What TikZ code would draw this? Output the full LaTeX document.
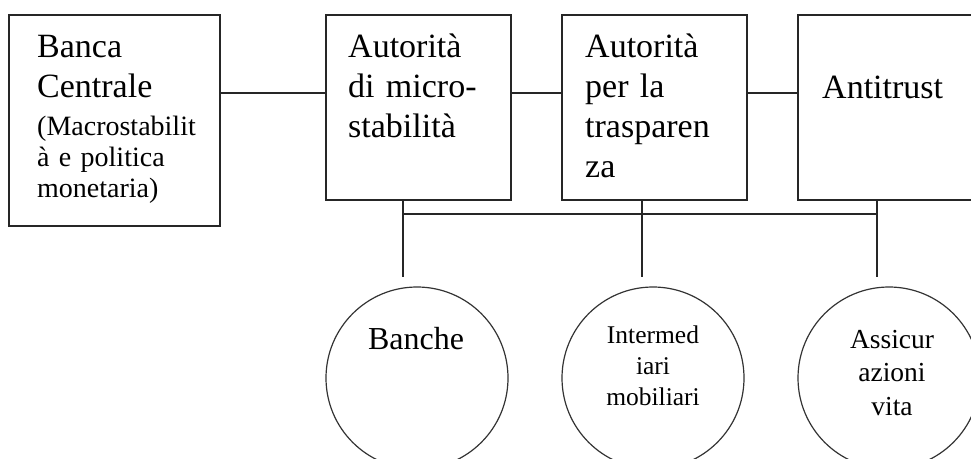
\documentclass[tikz,border=0pt]{standalone}
\usepackage{fontspec}
\setmainfont{Liberation Serif}
\begin{document}
\begin{tikzpicture}[x=1pt,y=-1pt,
  box/.style={draw=black!85, line width=1.7pt, rectangle, inner sep=0pt, anchor=north west},
  circ/.style={draw=black!80, line width=1.2pt, circle, minimum size=182pt, inner sep=0pt},
  link/.style={draw=black!85, line width=1.7pt},
  big/.style={anchor=base west, inner sep=0pt, text width=200pt, align=left, font=\fontsize{34}{40}\selectfont},
  small/.style={anchor=base west, inner sep=0pt, text width=200pt, align=left, font=\fontsize{28}{31}\selectfont},
  ctext/.style={anchor=base, inner sep=0pt, text width=170pt, align=center}]
\useasboundingbox (0,0) rectangle (971,458);
\clip (0,0) rectangle (971,458);

% boxes
\node[box, minimum width=211pt, minimum height=211pt] (b1) at (8,14) {};
\node[box, minimum width=185pt, minimum height=185pt] (b2) at (325,14) {};
\node[box, minimum width=185pt, minimum height=185pt] (b3) at (561,14) {};
\node[box, minimum width=200pt, minimum height=185pt] (b4) at (797,14) {};

% box texts
\node[big] (t1a) at (37,57) {Banca\\Centrale};
\node[small] (t1b) at (37,135) {(Macrostabilit\\à e politica\\monetaria)};
\node[big] (t2) at (348,57) {Autorità\\di micro-\\stabilità};
\node[big] (t3) at (585,57) {Autorità\\per la\\trasparen\\za};
\node[big] (t4) at (822,98) {Antitrust};

% circles
\node[circ] (c1) at (417,378) {};
\node[circ] (c2) at (653,378) {};
\node[circ] (c3) at (889,378) {};

\node[ctext, font=\fontsize{32}{38}\selectfont] (s1) at (416,349) {Banche};
\node[ctext, font=\fontsize{25.5}{31}\selectfont] (s2) at (653,343) {Intermed\\iari\\mobiliari};
\node[ctext, font=\fontsize{27.5}{33.5}\selectfont] (s3) at (892,348) {Assicur\\azioni\\vita};

% connectors
\coordinate (lev) at (0,93);
\coordinate (bus) at (0,214);
\coordinate (d1) at (403,277);
\coordinate (d2) at (642,277);
\coordinate (d3) at (877,277);

\draw[link] (b1.east |- lev) -- (b2.west |- lev);
\draw[link] (b2.east |- lev) -- (b3.west |- lev);
\draw[link] (b3.east |- lev) -- (b4.west |- lev);
\draw[link] (d1 |- b2.south) -- (d1);
\draw[link] (d2 |- b3.south) -- (d2);
\draw[link] (d3 |- b4.south) -- (d3);
\draw[link] (d1 |- bus) -- (d3 |- bus);
\end{tikzpicture}
\end{document}
